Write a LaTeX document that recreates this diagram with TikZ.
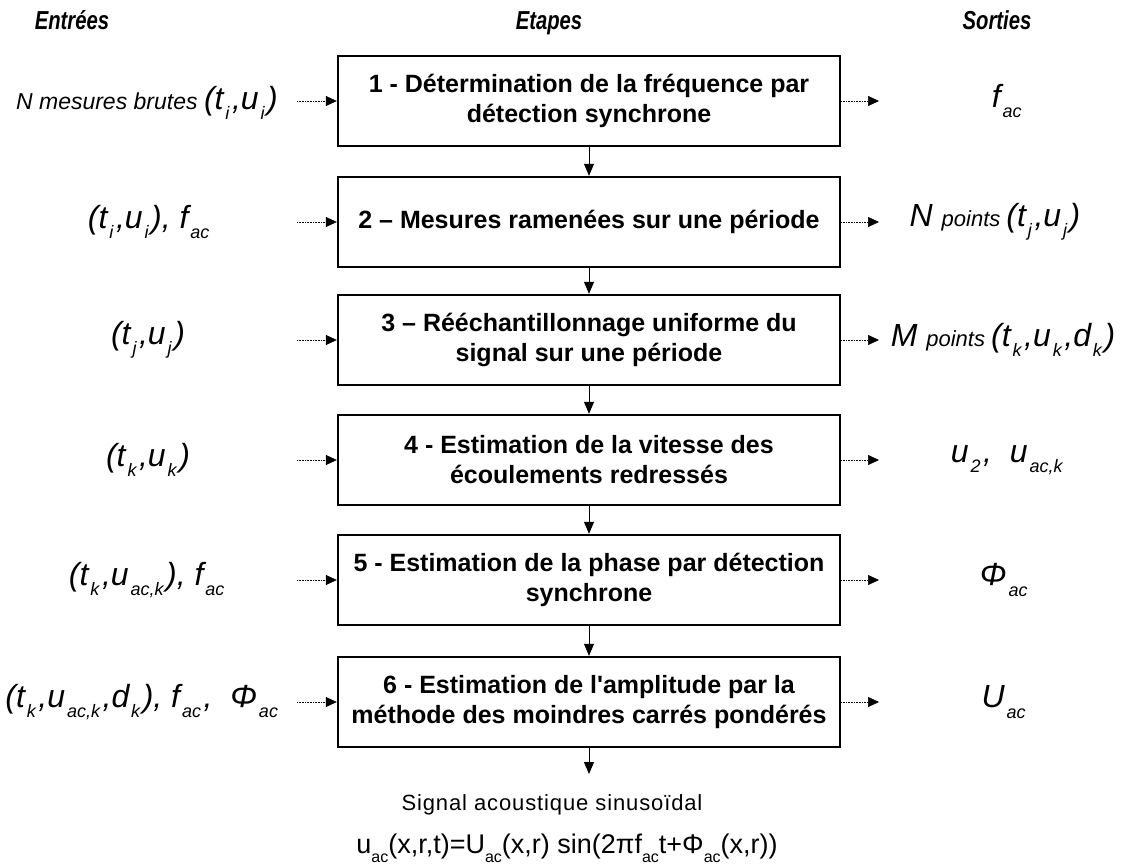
\documentclass[tikz,border=0pt]{standalone}
\usepackage{fontspec}
\setmainfont{Liberation Sans}
\newfontfamily\spacedfont[LetterSpace=4]{Liberation Sans}
\usetikzlibrary{arrows.meta}
\newcommand\sbx[1]{\kern0.06em\raisebox{-0.32em}{\fontsize{18}{18}\selectfont #1}\kern0.08em}
\newcommand\sbf[1]{\raisebox{-0.32em}{\fontsize{16}{16}\selectfont #1}}
\newcommand\hd[1]{\scalebox{0.78}[1]{\bfseries\itshape\fontsize{26}{28}\selectfont #1}}
\begin{document}
\begin{tikzpicture}[x=1pt,y=-1pt,
  stepbox/.style={draw,line width=2.4pt,minimum width=502pt,minimum height=90pt,inner sep=0pt,align=center,font=\bfseries\fontsize{25}{30}\selectfont},
  head/.style={inner sep=0pt,anchor=base},
  inp/.style={font=\itshape\fontsize{32}{34}\selectfont,inner sep=0pt},
  dotarrow/.style={densely dotted,line width=0.6pt,-{Triangle[length=11pt,width=10pt]}},
  flow/.style={line width=0.8pt,-{Triangle[length=12pt,width=10pt]}}]
\useasboundingbox (0,0) rectangle (1128,867);
% headers
\node[head] (h1) at (72,30) {\hd{Entrées}};
\node[head] (h2) at (549,30) {\hd{Etapes}};
\node[head] (h3) at (997,30) {\hd{Sorties}};
% boxes
\node[stepbox] (b1) at (589,101) {1 - Détermination de la fréquence par\\détection synchrone};
\node[stepbox] (b2) at (589,222) {2 – Mesures ramenées sur une période};
\node[stepbox] (b3) at (589,340) {3 – Rééchantillonnage uniforme du\\signal sur une période};
\node[stepbox] (b4) at (589,460) {4 - Estimation de la vitesse des\\écoulements redressés};
\node[stepbox] (b5) at (589,580) {5 - Estimation de la phase par détection\\synchrone};
\node[stepbox] (b6) at (589,702) {6 - Estimation de l\textquotesingle amplitude par la\\méthode des moindres carrés pondérés};
% vertical flow
\draw[flow] (b1.south) -- (b2.north);
\draw[flow] (b2.south) -- (b3.north);
\draw[flow] (b3.south) -- (b4.north);
\draw[flow] (b4.south) -- (b5.north);
\draw[flow] (b5.south) -- (b6.north);
\coordinate (end) at (589,774);
\draw[flow] (b6.south) -- (end);
% inputs
\node[inp] (i1) at (147,103) {{\fontsize{23}{23}\selectfont N mesures brutes }(t\sbx{i},u\sbx{i})};
\node[inp] (i2) at (150,222) {(t\sbx{i},u\sbx{i}), f\sbx{ac}};
\node[inp] (i3) at (148,340) {(t\sbx{j},u\sbx{j})};
\node[inp] (i4) at (148,460) {(t\sbx{k},u\sbx{k})};
\node[inp] (i5) at (148,580) {(t\sbx{k},u\sbx{ac,k}), f\sbx{ac}};
\node[inp] (i6) at (143,702) {(t\sbx{k},u\sbx{ac,k},d\sbx{k}), f\sbx{ac},~ Φ\sbx{ac}};
\foreach \k/\y in {1/101,2/222,3/340,4/460,5/580,6/702}{
  \coordinate (a\k) at (297,\y);
  \coordinate (o\k) at (879,\y);
}
\foreach \k in {1,...,6}{
  \draw[dotarrow] (a\k) -- (b\k.west);
  \draw[dotarrow] (b\k.east) -- (o\k);
}
% outputs
\node[inp] (r1) at (1008,101) {f\sbx{ac}};
\node[inp] (r2) at (995,222) {N {\fontsize{22}{22}\selectfont points }(t\sbx{j},u\sbx{j})};
\node[inp] (r3) at (1003,340) {M {\fontsize{22}{22}\selectfont points }(t\sbx{k},u\sbx{k},d\sbx{k})};
\node[inp] (r4) at (1008,460) {u\sbx{2} ,~ u\sbx{ac,k}};
\node[inp] (r5) at (1005,580) {Φ\sbx{ac}};
\node[inp] (r6) at (1005,702) {U\sbx{ac}};
% bottom
\node[font=\spacedfont\fontsize{22}{24}\selectfont,inner sep=0pt] (s1) at (552,805) {Signal acoustique sinusoïdal};
\node[font=\fontsize{27}{29}\selectfont,inner sep=0pt] (s2) at (567,848) {u\sbf{ac}(x,r,t)=U\sbf{ac}(x,r) sin(2πf\sbf{ac}t+Φ\sbf{ac}(x,r))};
\end{tikzpicture}
\end{document}
